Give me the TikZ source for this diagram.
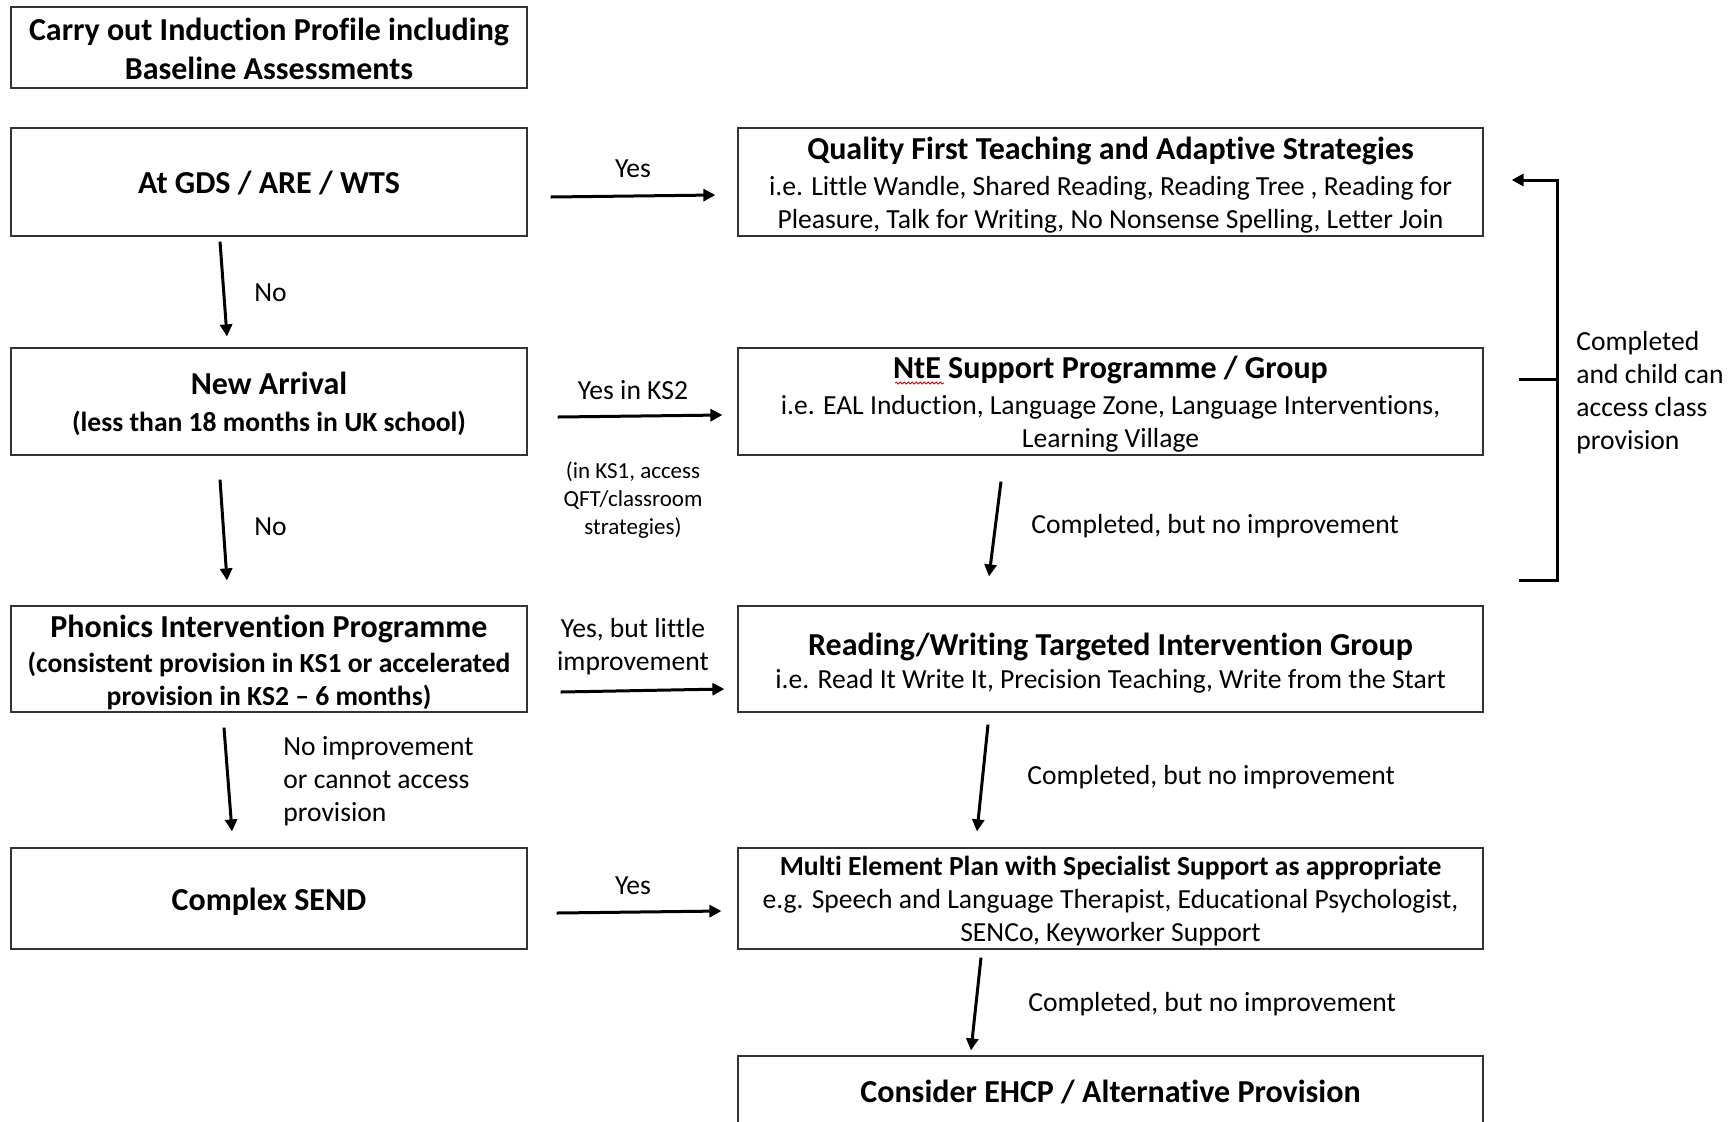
\documentclass[tikz,border=0pt]{standalone}
\usepackage{fontspec}
\setmainfont{Carlito}[Ligatures={NoCommon,TeX}]
\usetikzlibrary{arrows.meta,decorations.pathmorphing}
\newcommand\boxtitle{\fontsize{16}{18}\selectfont\bfseries}
\newcommand\bodyfont{\fontsize{13.8}{16.5}\selectfont}
\begin{document}
\begin{tikzpicture}[x=0.5pt,y=-0.5pt,
  box/.style={draw=black!80, line width=0.6pt, rectangle, inner sep=0pt},
  lbox/.style={box, minimum width=258pt},
  rbox/.style={box, minimum width=372.5pt},
  btext/.style={inner sep=0pt, align=center, font=\bodyfont},
  arr/.style={line width=1.5pt, -{Triangle[length=6pt,width=6pt]}},
  lab/.style={font=\bodyfont, inner sep=0pt, align=left},
  clab/.style={lab, align=center},
]
\clip (0,0) rectangle (1734,1121);
\fill[white] (0,0) rectangle (1734,1121);

% left column
\node[lbox, minimum height=40.5pt] (b0) at (269,47.5) {};
\node[btext] (b0t) at ([yshift=-0.5pt]b0.center) {{\boxtitle Carry out Induction Profile including}\\[3pt]{\boxtitle Baseline Assessments}};
\node[lbox, minimum height=54pt] (b1) at (269,182) {};
\node[btext] (b1t) at ([yshift=-0.5pt]b1.center) {\boxtitle At GDS / ARE / WTS};
\node[lbox, minimum height=53.5pt] (b2) at (269,401.5) {};
\node[btext] (b2t) at ([yshift=-1.4pt]b2.center) {{\boxtitle New Arrival}\\[2pt]{\bfseries (less than 18 months in UK school)}};
\node[lbox, minimum height=53pt] (b3) at (269,659) {};
\node[btext] (b3t) at ([yshift=-1.6pt]b3.center) {{\boxtitle Phonics Intervention Programme}\\[1pt]{\bfseries (consistent provision in KS1 or accelerated}\\{\bfseries provision in KS2 -- 6 months)}};
\node[lbox, minimum height=50.5pt] (b4) at (269,898.5) {};
\node[btext] (b4t) at ([yshift=-1.6pt]b4.center) {\boxtitle Complex SEND};

% right column
\node[rbox, minimum height=54pt] (r1) at (1110.5,182) {};
\node[btext] (r1t) at ([yshift=-1.4pt]r1.center) {{\boxtitle Quality First Teaching and Adaptive Strategies}\\[1.5pt]i.e. Little Wandle, Shared Reading, Reading Tree , Reading for\\Pleasure, Talk for Writing, No Nonsense Spelling, Letter Join};
\node[rbox, minimum height=53.5pt] (r2) at (1110.5,401.5) {};
\node[btext] (r2t) at ([yshift=-1.4pt]r2.center) {{\boxtitle NtE Support Programme / Group}\\[1.5pt]i.e. EAL Induction, Language Zone, Language Interventions,\\Learning Village};
\node[rbox, minimum height=53pt] (r3) at (1110.5,659) {};
\node[btext] (r3t) at ([yshift=-1.9pt]r3.center) {{\boxtitle Reading/Writing Targeted Intervention Group}\\i.e. Read It Write It, Precision Teaching, Write from the Start};
\node[rbox, minimum height=50.5pt] (r4) at (1110.5,898.5) {};
\node[btext] (r4t) at ([yshift=-1.1pt]r4.center) {{\bfseries Multi Element Plan with Specialist Support as appropriate}\\e.g. Speech and Language Therapist, Educational Psychologist,\\SENCo, Keyworker Support};
\node[rbox, minimum height=70pt] (r5) at (1110.5,1126) {};
\node[btext, font=\boxtitle] (r5t) at (1110.5,1092) {Consider EHCP / Alternative Provision};

% spell-check squiggle under NtE
\draw[red!80!black, line width=0.4pt, decorate, decoration={snake, amplitude=0.5pt, segment length=2pt}] (895,383) -- (944,383);

% horizontal arrows
\draw[arr] ([xshift=11.5pt,yshift=-7.5pt]b1.east) -- ([xshift=-11pt,yshift=-6.5pt]r1.west);
\draw[arr] ([xshift=15pt,yshift=-7.75pt]b2.east) -- ([xshift=-7.5pt,yshift=-6.75pt]r2.west);
\draw[arr] ([xshift=16.5pt,yshift=-16.5pt]b3.east) -- ([xshift=-6.5pt,yshift=-15pt]r3.west);
\draw[arr] ([xshift=14.5pt,yshift=-7.25pt]b4.east) -- ([xshift=-8pt,yshift=-6.25pt]r4.west);

\node[clab] (l1) at (633,169) {Yes};
\node[clab] (l2) at (633,390) {Yes in KS2};
\node[clab, font=\fontsize{11.5}{13.8}\selectfont] (l3) at (633,500) {(in KS1, access\\QFT/classroom\\strategies)};
\node[clab] (l4) at (633,647) {Yes, but little\\improvement};
\node[clab] (l5) at (633,886) {Yes};

% left vertical arrows
\draw[arr] ([xshift=-24.5pt,yshift=-2.5pt]b1.south) -- ([xshift=-21pt,yshift=5.5pt]b2.north);
\draw[arr] ([xshift=-24.5pt,yshift=-12pt]b2.south) -- ([xshift=-21pt,yshift=12.5pt]b3.north);
\draw[arr] ([xshift=-22.5pt,yshift=-7.5pt]b3.south) -- ([xshift=-18.5pt,yshift=8pt]b4.north);

\node[lab, anchor=west] (n1) at (254,293) {No};
\node[lab, anchor=west] (n2) at (254,527) {No};
\node[lab, anchor=west] (n3) at (283,781) {No improvement\\or cannot access\\provision};

% right vertical arrows
\draw[arr] ([xshift=-54.75pt,yshift=-13pt]r2.south) -- ([xshift=-60.75pt,yshift=14.5pt]r3.north);
\draw[arr] ([xshift=-61.25pt,yshift=-6pt]r3.south) -- ([xshift=-66.75pt,yshift=8pt]r4.north);
\draw[arr] ([xshift=-64.75pt,yshift=-4pt]r4.south) -- ([xshift=-69.75pt,yshift=2.5pt]r5.north);

\node[lab, anchor=west] (c1) at (1031,526) {Completed, but no improvement};
\node[lab, anchor=west] (c2) at (1027,777) {Completed, but no improvement};
\node[lab, anchor=west] (c3) at (1028,1004) {Completed, but no improvement};

% bracket back to QFT
\coordinate (kb) at (1519,580);
\coordinate (kc) at (1557,580);
\coordinate (kt) at (1557,180);
\coordinate (km) at (1519,379);
\coordinate (kmv) at (1557,379);
\draw[arr] (kb) -- (kc) -- (kt) -- ([xshift=14pt,yshift=1pt]r1.east);
\draw[line width=1.5pt] (km) -- (kmv);
\node[lab, anchor=west] (back) at (1576,393) {Completed\\and child can\\access class\\provision};
\end{tikzpicture}
\end{document}
